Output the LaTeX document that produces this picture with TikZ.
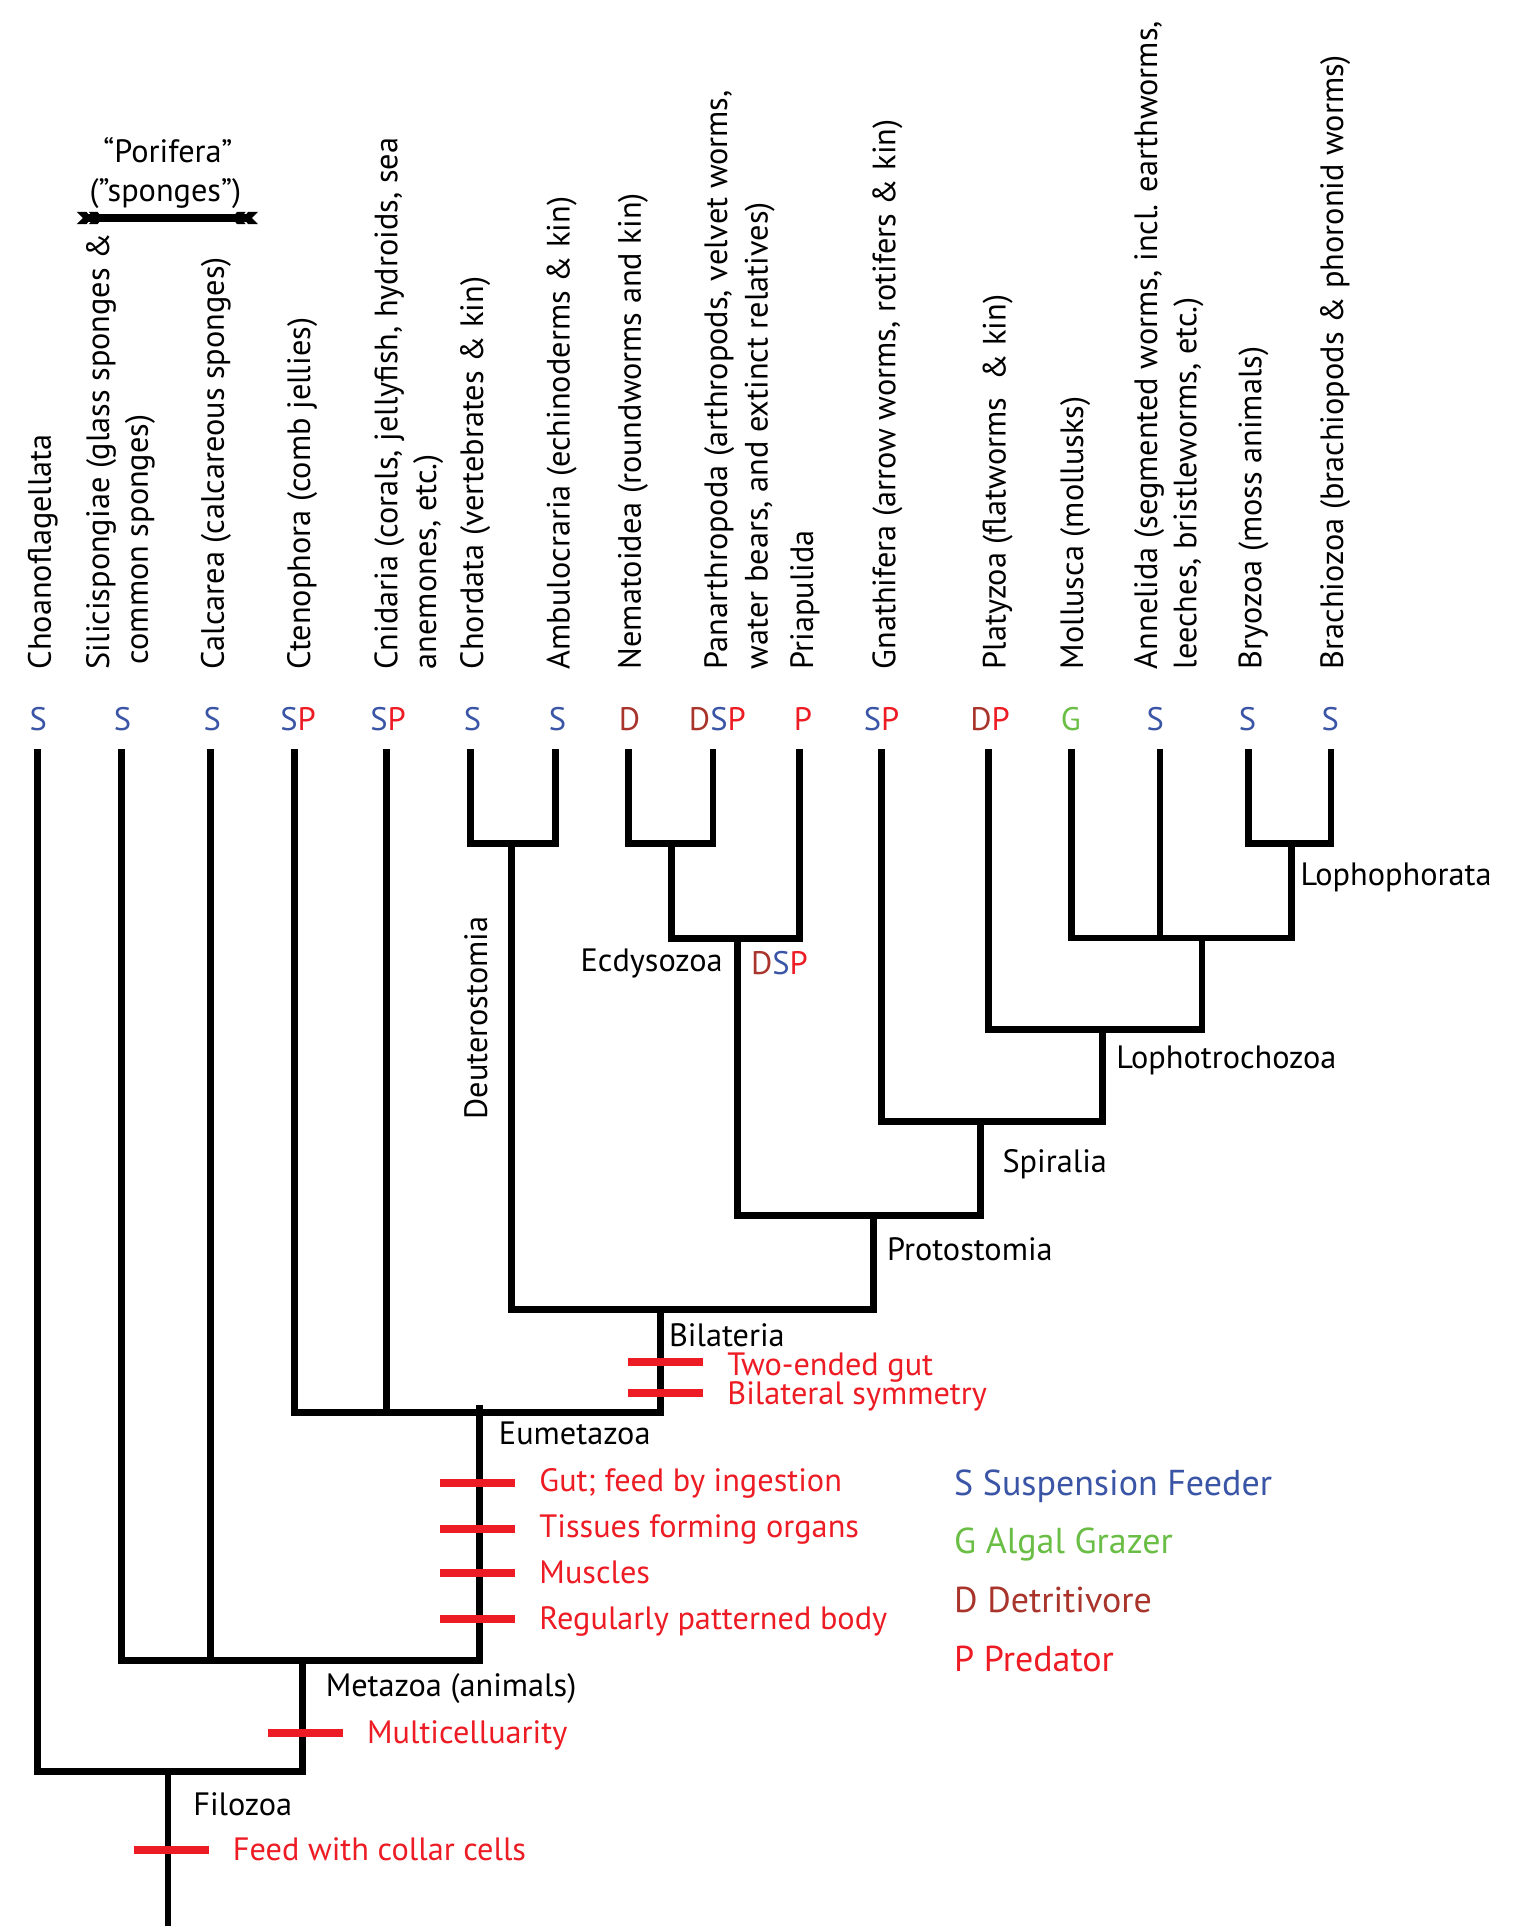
\documentclass[tikz,border=0pt]{standalone}
\usepackage{fontspec}
\setmainfont{PT Sans}
\definecolor{sblue}{HTML}{3A55A5}
\definecolor{pred}{HTML}{ED1C24}
\definecolor{dbrown}{HTML}{A8342B}
\definecolor{ggreen}{HTML}{6ABD45}
\newcommand\feedS{\textcolor{sblue}{S}}
\newcommand\feedP{\textcolor{pred}{P}}
\newcommand\feedD{\textcolor{dbrown}{D}}
\newcommand\feedG{\textcolor{ggreen}{G}}
\begin{document}
\begin{tikzpicture}[x=1pt,y=-1pt,
  br/.style={line width=5.5pt, line join=miter, black},
  txt/.style={inner sep=0pt, anchor=base west, font=\fontsize{26.3}{31}\selectfont},
  taxon/.style={txt, rotate=90},
  trait/.style={txt, text=pred},
  code/.style={inner sep=0pt, anchor=base, font=\fontsize{26.5}{31}\selectfont},
  legend/.style={inner sep=0pt, anchor=base west, font=\fontsize{29.3}{34}\selectfont},
  tickmark/.style={fill=pred, draw=none, inner sep=0pt, minimum width=61pt, minimum height=6.5pt, rectangle},
  tail/.style={fill=black, draw=none}]
\useasboundingbox (0,0) rectangle (1233,1568);

% tips
\coordinate (tCho) at (30.5,610);
\coordinate (tSil) at (99,610);
\coordinate (tCal) at (171.5,610);
\coordinate (tCte) at (240,610);
\coordinate (tCni) at (314.5,610);
\coordinate (tChr) at (383,610);
\coordinate (tAmb) at (452.5,610);
\coordinate (tNem) at (511.5,610);
\coordinate (tPan) at (580.5,610);
\coordinate (tPri) at (651,610);
\coordinate (tGna) at (717.5,610);
\coordinate (tPla) at (804.8,610);
\coordinate (tMol) at (872.5,610);
\coordinate (tAnn) at (944.4,610);
\coordinate (tBry) at (1016.5,610);
\coordinate (tBra) at (1083.5,610);
% internal nodes
\coordinate (nDeut) at (416.3,687);
\coordinate (nNP) at (546.5,687);
\coordinate (nEcd) at (600.6,764);
\coordinate (nLoph) at (1051.7,687);
\coordinate (nMAL) at (978.6,763.6);
\coordinate (nLT) at (897.8,838.2);
\coordinate (nSpir) at (798.5,913.3);
\coordinate (nProt) at (710.9,989.6);
\coordinate (nBil) at (537.5,1066);
\coordinate (nEum) at (390.6,1149.8);
\coordinate (nEumTop) at (390.6,1144);
\coordinate (nMet) at (246,1351.7);
\coordinate (nFil) at (136.8,1442.4);
\coordinate (root) at (136.8,1568);

% branches
\draw[br] (tChr) |- (nDeut) -| (tAmb);
\draw[br] (tNem) |- (nNP) -| (tPan);
\draw[br] (nNP) |- (nEcd) -| (tPri);
\draw[br] (tBry) |- (nLoph) -| (tBra);
\draw[br] (tMol) |- (nMAL) -| (nLoph);
\draw[br] (tAnn) -- (tAnn |- nMAL);
\draw[br] (tPla) |- (nLT) -| (nMAL);
\draw[br] (tGna) |- (nSpir) -| (nLT);
\draw[br] (nEcd) |- (nProt) -| (nSpir);
\draw[br] (nDeut) |- (nBil) -| (nProt);
\draw[br] (tCte) |- (nEum) -| (nBil);
\draw[br] (tCni) -- (tCni |- nEum);
\draw[br] (tSil) |- (nMet) -| (nEumTop);
\draw[br] (tCal) -- (tCal |- nMet);
\draw[br] (tCho) |- (nFil) -| (nMet);
\draw[br] (nFil) -- (root);

% feeding codes
\node[code] (cCho) at (31.2,595) {\feedS};
\node[code] (cSil) at (99.8,595) {\feedS};
\node[code] (cCal) at (172.8,595) {\feedS};
\node[code] (cCte) at (242.7,595) {\feedS\feedP};
\node[code] (cCni) at (316,595) {\feedS\feedP};
\node[code] (cChr) at (384.7,595) {\feedS};
\node[code] (cAmb) at (453.8,595) {\feedS};
\node[code] (cNem) at (512.4,595) {\feedD};
\node[code] (cPan) at (584,595) {\feedD\feedS\feedP};
\node[code] (cPri) at (653.7,595) {\feedP};
\node[code] (cGna) at (717.7,595) {\feedS\feedP};
\node[code] (cPla) at (806,595) {\feedD\feedP};
\node[code] (cMol) at (871.7,595) {\feedG};
\node[code] (cAnn) at (940.6,595) {\feedS};
\node[code] (cBry) at (1015.7,595) {\feedS};
\node[code] (cBra) at (1083,595) {\feedS};
\node[txt, font=\fontsize{26.5}{31}\selectfont] (cEcd) at (611.2,793) {\feedD\feedS\feedP};

% taxon labels
\node[taxon] (lCho) at (41.4,545) {Choanoflagellata};
\node[taxon] (lSilA) at (88.8,545) {Silicispongiae (glass sponges \&};
\node[taxon] (lSilB) at (120.4,541) {common sponges)};
\node[taxon] (lCal) at (182.3,545) {Calcarea (calcareous sponges)};
\node[taxon] (lCte) at (252.5,545) {Ctenophora (comb jellies)};
\node[taxon] (lCniA) at (323.6,545) {Cnidaria (corals, jellyfish, hydroids, sea};
\node[taxon] (lCniB) at (355,545) {anemones, etc.)};
\node[taxon] (lChr) at (393.4,545) {Chordata (vertebrates \& kin)};
\node[taxon] (lAmb) at (463.7,545) {Ambulocraria (echinoderms \& kin)};
\node[taxon] (lNem) at (521.7,545) {Nematoidea (roundworms and kin)};
\node[taxon] (lPanA) at (592,545) {Panarthropoda (arthropods, velvet worms,};
\node[taxon] (lPanB) at (625,545) {water bears, and extinct relatives)};
\node[taxon] (lPri) at (662,545) {Priapulida};
\node[taxon] (lGna) at (729,545) {Gnathifera (arrow worms, rotifers \& kin)};
\node[taxon] (lPla) at (818.6,545) {Platyzoa (flatworms \ \& kin)};
\node[taxon] (lMol) at (881.7,545) {Mollusca (mollusks)};
\node[taxon] (lAnnA) at (942,545) {Annelida (segmented worms, incl. earthworms,};
\node[taxon] (lAnnB) at (974,545) {leeches, bristleworms, etc.)};
\node[taxon] (lBry) at (1027,545) {Bryozoa (moss animals)};
\node[taxon] (lBra) at (1093.5,545) {Brachiozoa (brachiopods \& phoronid worms)};

% Porifera bracket
\coordinate (pL) at (72,177.5);
\coordinate (pR) at (201,177.5);
\draw[line width=6pt] (pL) -- (pR);
\fill[tail] (62.4,172.5) -- (70.4,172.5) -- (74.4,177.5) -- (70.4,182.5) -- (62.4,182.5) -- (67.4,177.5) -- cycle;
\fill[tail] (72.4,172.5) -- (79.4,172.5) -- (83.4,177.5) -- (79.4,182.5) -- (72.4,182.5) -- (76.4,177.5) -- cycle;
\fill[tail] (210,172.5) -- (202,172.5) -- (198,177.5) -- (202,182.5) -- (210,182.5) -- (205,177.5) -- cycle;
\fill[tail] (200,172.5) -- (193,172.5) -- (189,177.5) -- (193,182.5) -- (200,182.5) -- (196,177.5) -- cycle;
\node[code, font=\fontsize{26.3}{31}\selectfont] (porA) at (136.7,132.2) {“Porifera”};
\node[code, font=\fontsize{26.3}{31}\selectfont] (porB) at (134.6,163.8) {(”sponges”)};

% clade labels
\node[taxon] (lDeut) at (396.6,911.5) {Deuterostomia};
\node[txt, anchor=base east] (lEcd) at (588.5,791) {Ecdysozoa};
\node[txt] (lLoph) at (1058.6,720.7) {Lophophorata};
\node[txt] (lLT) at (908.6,869.7) {Lophotrochozoa};
\node[txt] (lSpir) at (816,954.4) {Spiralia};
\node[txt] (lProt) at (722,1026) {Protostomia};
\node[txt] (lBil) at (544.5,1096.2) {Bilateria};
\node[txt] (lEum) at (406,1176.2) {Eumetazoa};
\node[txt] (lMet) at (265,1381) {Metazoa (animals)};
\node[txt] (lFil) at (157.2,1478.3) {Filozoa};

% trait ticks
\node[tickmark] (k1) at (541.5,1108.9) {};
\node[tickmark] (k2) at (541.5,1134.3) {};
\node[tickmark] (k3) at (388.7,1207.3) {};
\node[tickmark] (k4) at (388.7,1244.7) {};
\node[tickmark] (k5) at (388.7,1280.6) {};
\node[tickmark] (k6) at (388.7,1318) {};
\node[tickmark] (k7) at (248.4,1411) {};
\node[tickmark] (k8) at (139.5,1506.4) {};

% trait labels
\node[trait] (r1) at (592,1119.6) {Two-ended gut};
\node[trait] (r2) at (592,1143.3) {Bilateral symmetry};
\node[trait] (r3) at (439,1214.2) {Gut; feed by ingestion};
\node[trait] (r4) at (439,1251.5) {Tissues forming organs};
\node[trait] (r5) at (439,1289) {Muscles};
\node[trait] (r6) at (439,1326.3) {Regularly patterned body};
\node[trait] (r7) at (298.7,1419.6) {Multicelluarity};
\node[trait] (r8) at (189.4,1514.7) {Feed with collar cells};

% legend
\node[legend, text=sblue] (gS) at (776.6,1217.1) {S Suspension Feeder};
\node[legend, text=ggreen] (gG) at (776.6,1265) {G Algal Grazer};
\node[legend, text=dbrown] (gD) at (776.6,1312.9) {D Detritivore};
\node[legend, text=pred] (gP) at (776.6,1360.7) {P Predator};
\end{tikzpicture}
\end{document}
